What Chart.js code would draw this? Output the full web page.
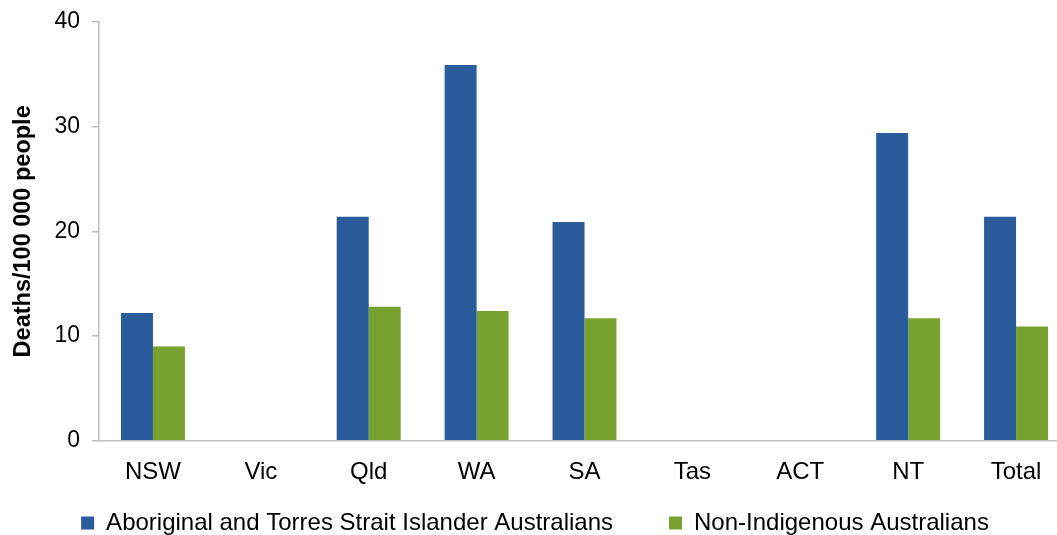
<!DOCTYPE html>
<html>
<head>
<meta charset="utf-8">
<script src="https://cdn.jsdelivr.net/npm/chart.js@4/dist/chart.umd.min.js"></script>
<style>
  html, body { margin: 0; padding: 0; background: #ffffff; overflow: hidden; }
  #wrap { width: 1057px; height: 535px; position: relative; overflow: hidden; }
  canvas { display: block; }
</style>
</head>
<body>
<div id="wrap"><canvas id="c" width="1070" height="535"></canvas></div>
<script>
const categories = ["NSW", "Vic", "Qld", "WA", "SA", "Tas", "ACT", "NT", "Total"];
const indigenous = [12.2, null, 21.4, 35.9, 20.9, null, null, 29.4, 21.4];
const nonIndigenous = [9.0, null, 12.8, 12.4, 11.7, null, null, 11.7, 10.9];
const yTicks = [0, 10, 20, 30, 40];
const seriesNames = ["Aboriginal and Torres Strait Islander Australians", "Non-Indigenous Australians"];

const FONT = "'Liberation Sans', Arial, sans-serif";
const PLOT_BOTTOM = 440.7;
const LEGEND_H = 40;
const LEGEND_TOP = 455;

const fixLegend = {
  id: 'fixLegend',
  beforeLayout(chart) {
    const lg = chart.legend;
    if (lg && !lg._patched) {
      const f = lg.fit.bind(lg);
      lg.fit = function () { f(); this.height = LEGEND_H; };
      lg._patched = true;
    }
  },
  afterLayout(chart) {
    const lg = chart.legend;
    if (lg) { lg.top = LEGEND_TOP; lg.bottom = chart.height; lg.height = chart.height - LEGEND_TOP; }
  }
};

new Chart(document.getElementById('c'), {
  type: 'bar',
  data: {
    labels: categories,
    datasets: [
      { label: seriesNames[0], data: indigenous, backgroundColor: '#2A5B9B',
        categoryPercentage: 0.593, barPercentage: 1.0 },
      { label: seriesNames[1], data: nonIndigenous, backgroundColor: '#78A22F',
        categoryPercentage: 0.593, barPercentage: 1.0 }
    ]
  },
  plugins: [fixLegend],
  options: {
    responsive: false,
    animation: false,
    devicePixelRatio: 1,
    layout: { padding: { top: 22, right: 0, left: 0, bottom: 0 } },
    plugins: {
      tooltip: { enabled: false },
      legend: {
        position: 'bottom',
        labels: {
          boxWidth: 13, boxHeight: 13, padding: 56,
          color: '#000000',
          font: { family: FONT, size: 24 }
        }
      }
    },
    scales: {
      x: {
        grid: { display: false, drawTicks: false },
        border: { display: true, color: '#BFBFBF', width: 1.5 },
        ticks: { color: '#000000', font: { family: FONT, size: 24 }, padding: 17, maxRotation: 0, autoSkip: false },
        afterFit: s => { s.height = 535 - PLOT_BOTTOM - LEGEND_H; s.paddingLeft = 0; s.paddingRight = 0; }
      },
      y: {
        min: 0, max: 40,
        afterBuildTicks: s => { s.ticks = yTicks.map(v => ({ value: v })); },
        grid: { display: true, drawOnChartArea: false, drawTicks: true, tickLength: 7, color: '#BFBFBF', lineWidth: 1.5 },
        border: { display: true, color: '#BFBFBF', width: 1.5 },
        ticks: { color: '#000000', font: { family: FONT, size: 23 }, padding: 12 },
        title: { display: true, text: 'Deaths/100 000 people', color: '#000000',
                 font: { family: FONT, size: 23.5, weight: 'bold' }, padding: { top: 9, bottom: 0 } },
        afterFit: s => { s.width = 99; s.paddingTop = 0; s.paddingBottom = 0; }
      }
    }
  }
});
</script>
</body>
</html>
